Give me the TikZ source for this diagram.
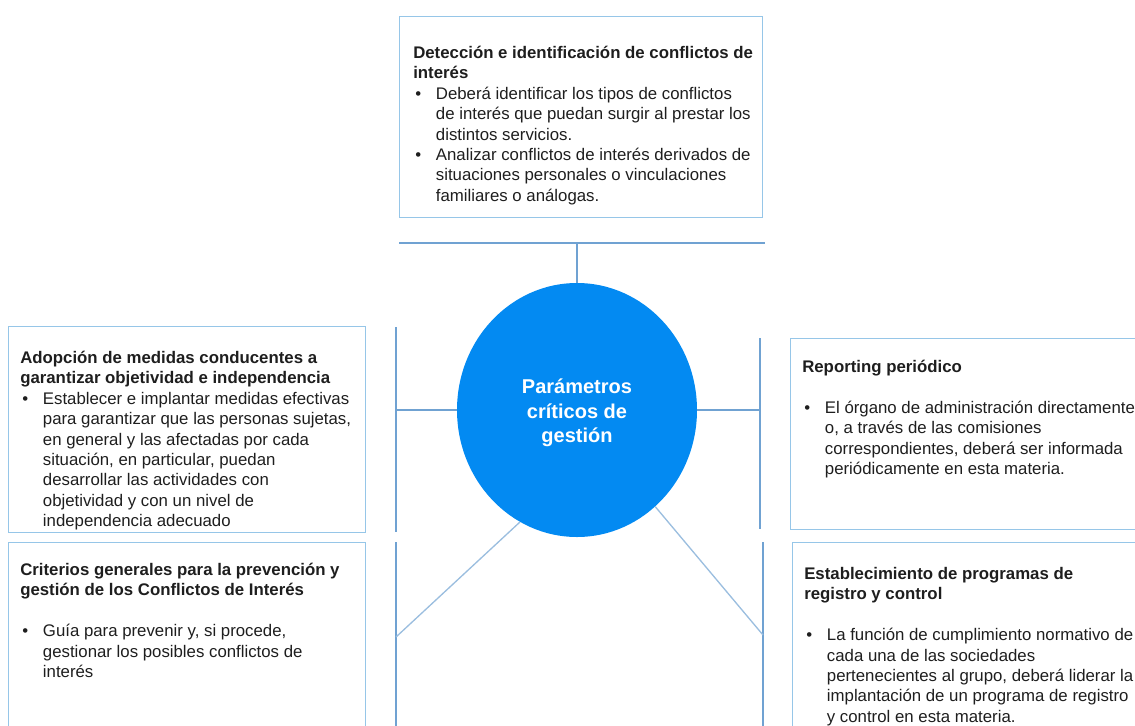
\documentclass[tikz,border=0pt]{standalone}
\usepackage{fontspec}
\setmainfont{Liberation Sans}
\usepackage{xcolor}
\usetikzlibrary{shapes.geometric}
\definecolor{hubblue}{RGB}{3,138,242}
\definecolor{linkblue}{RGB}{112,162,210}
\definecolor{frameblue}{RGB}{150,198,232}
\definecolor{bodygray}{RGB}{30,30,30}
\tikzstyle{panel} = [draw=frameblue, line width=1.1pt, rectangle, anchor=north west, inner sep=0pt]
\tikzstyle{paneltext} = [anchor=north west, inner sep=0pt, align=left, text=bodygray, font={\fontsize{12.6}{15.3}\selectfont}]
\tikzstyle{link} = [draw=linkblue, line width=1.3pt]
\tikzstyle{slant} = [draw=linkblue!70, line width=1pt]
\newcommand{\itm}{\makebox[17pt][l]{\hspace{1.5pt}\textbullet}}
\newcommand{\ind}{\hspace*{17pt}}

\begin{document}
\begin{tikzpicture}[x=0.75pt, y=-0.75pt]
        \useasboundingbox (0,0) rectangle (1135,725);
        \clip (0,0) rectangle (1135,725);

        % Central circle
        \node[ellipse, fill=hubblue, minimum width=180pt, minimum height=190.5pt, inner sep=0pt] (hub) at (577,410) {};
        \node[align=center, text=white, font={\fontsize{15}{18.4}\selectfont\bfseries}] (hubtxt) at (577,413)
              {Parámetros\\críticos de\\gestión};

        % Panels
        \node[panel, minimum width=272.25pt, minimum height=150.75pt] (detect) at (399,16) {};
        \node[panel, minimum width=267.75pt, minimum height=154.5pt] (adopt) at (8,326) {};
        \node[panel, minimum width=267.75pt, minimum height=150pt] (criter) at (8,542) {};
        \node[panel, minimum width=270pt, minimum height=143.25pt] (report) at (790,338) {};
        \node[panel, minimum width=270pt, minimum height=150pt] (regist) at (792,542) {};

        % Panel texts
        \node[paneltext] (detecttxt) at (413,46) {\textbf{Detección e identificación de conflictos de}\\
            \textbf{interés}\\
            \itm Deberá identificar los tipos de conflictos\\
            \ind de interés que puedan surgir al prestar los\\
            \ind distintos servicios.\\
            \itm Analizar conflictos de interés derivados de\\
            \ind situaciones personales o vinculaciones\\
            \ind familiares o análogas.};
        \node[paneltext] (adopttxt) at (20,351) {\textbf{Adopción de medidas conducentes a}\\
            \textbf{garantizar objetividad e independencia}\\
            \itm Establecer e implantar medidas efectivas\\
            \ind para garantizar que las personas sujetas,\\
            \ind en general y las afectadas por cada\\
            \ind situación, en particular, puedan\\
            \ind desarrollar las actividades con\\
            \ind objetividad y con un nivel de\\
            \ind independencia adecuado};
        \node[paneltext] (critertxt) at (20,563) {\textbf{Criterios generales para la prevención y}\\
            \textbf{gestión de los Conflictos de Interés}\\[15.3pt]
            \itm Guía para prevenir y, si procede,\\
            \ind gestionar los posibles conflictos de\\
            \ind interés};
        \node[paneltext] (reporttxt) at (802,360) {\textbf{Reporting periódico}\\[15.3pt]
            \itm El órgano de administración directamente\\
            \ind o, a través de las comisiones\\
            \ind correspondientes, deberá ser informada\\
            \ind periódicamente en esta materia.};
        \node[paneltext] (registtxt) at (804,567) {\textbf{Establecimiento de programas de}\\
            \textbf{registro y control}\\[15.3pt]
            \itm La función de cumplimiento normativo de\\
            \ind cada una de las sociedades\\
            \ind pertenecientes al grupo, deberá liderar la\\
            \ind implantación de un programa de registro\\
            \ind y control en esta materia.};

        % Bracket ends
        \coordinate (topa) at (399,243);
        \coordinate (topb) at (765,243);
        \coordinate (topm) at (577,243);
        \coordinate (lefta) at (396,327);
        \coordinate (leftb) at (396,532);
        \coordinate (leftm) at (396,410);
        \coordinate (lowlefta) at (396,542);
        \coordinate (lowleftb) at (396,730);
        \coordinate (lowleftm) at (396,637);
        \coordinate (righta) at (760,338);
        \coordinate (rightb) at (760,529);
        \coordinate (rightm) at (760,410);
        \coordinate (lowrighta) at (763,542);
        \coordinate (lowrightb) at (763,730);
        \coordinate (lowrightm) at (763,635);

        % Brackets
        \draw[link] (topa) -- (topb);
        \draw[link] (lefta) -- (leftb);
        \draw[link] (lowlefta) -- (lowleftb);
        \draw[link] (righta) -- (rightb);
        \draw[link] (lowrighta) -- (lowrightb);

        % Connectors
        \draw[link] (hub.north) -- (topm);
        \draw[link] (hub.west) -- (leftm);
        \draw[link] (hub.east) -- (rightm);
        \draw[slant] (hub.243) -- (lowleftm);
        \draw[slant] (hub.309) -- (lowrightm);
    \end{tikzpicture}
\end{document}
